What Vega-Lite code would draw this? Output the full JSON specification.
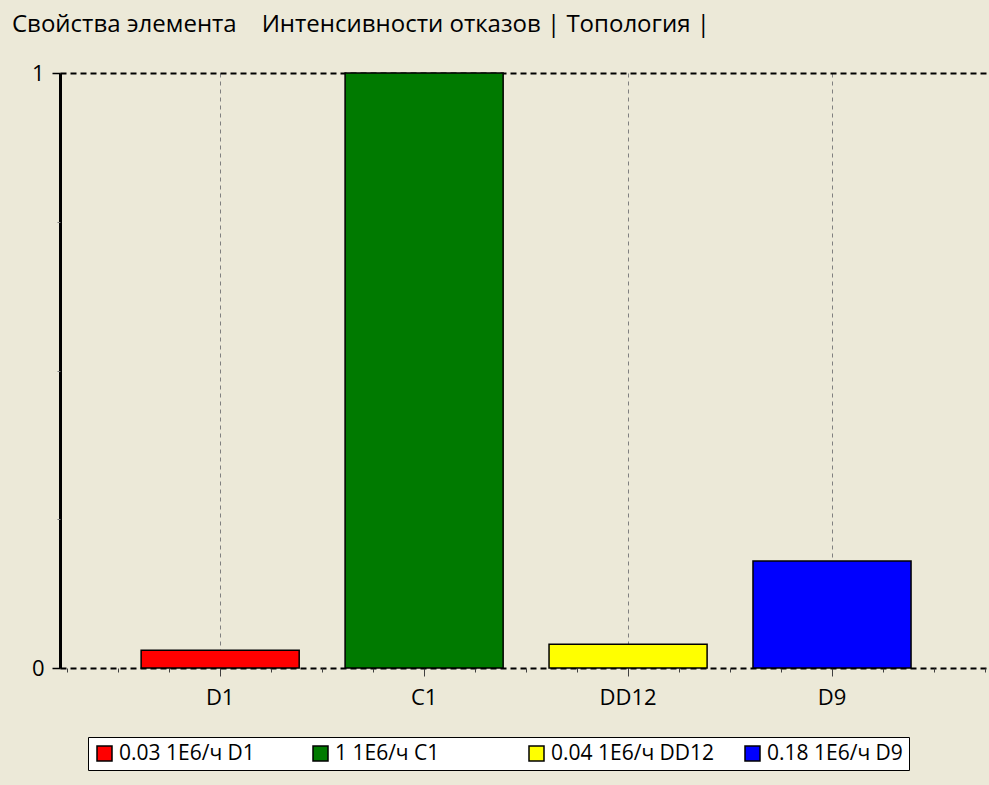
{
  "$schema": "https://vega.github.io/schema/vega-lite/v6.json",
  "width": 929,
  "height": 595,
  "autosize": {"type": "none"},
  "padding": {"left": 60, "top": 73, "right": 0, "bottom": 117},
  "background": "#ECE9D8",
  "title": {
    "text": "Свойства элемента\u00a0\u00a0\u00a0\u00a0Интенсивности отказов\u00a0|\u00a0Топология\u00a0|",
    "anchor": "start",
    "frame": "group",
    "dx": -48,
    "offset": 25,
    "fontSize": 24,
    "font": "Open Sans",
    "fontWeight": "normal",
    "color": "black"
  },
  "config": {
    "view": {"stroke": null},
    "font": "Open Sans"
  },
  "data": {
    "values": [
      {"element": "D1", "rate": 0.03, "label": "0.03 1E6/ч D1"},
      {"element": "C1", "rate": 1, "label": "1 1E6/ч C1"},
      {"element": "DD12", "rate": 0.04, "label": "0.04 1E6/ч DD12"},
      {"element": "D9", "rate": 0.18, "label": "0.18 1E6/ч D9"}
    ]
  },
  "layer": [
    {
      "mark": {"type": "bar", "stroke": "black", "strokeWidth": 1.5},
      "encoding": {
        "x": {
          "field": "element",
          "type": "nominal",
          "sort": null,
          "scale": {"paddingInner": 0.225, "paddingOuter": 0.39, "align": 0.51},
          "axis": {
            "title": null,
            "labelAngle": 0,
            "labelFontSize": 22,
            "labelColor": "black",
            "labelPadding": 11,
            "tickSize": 8,
            "tickColor": "#404040",
            "domain": false,
            "grid": true,
            "gridDash": [4, 4],
            "gridColor": "#808080",
            "gridWidth": 1
          }
        },
        "y": {
          "field": "rate",
          "type": "quantitative",
          "scale": {"domain": [0, 1], "nice": false},
          "axis": {
            "title": null,
            "values": [0, 1],
            "format": "d",
            "labelFontSize": 22,
            "labelColor": "black",
            "tickSize": 8,
            "tickColor": "black",
            "tickWidth": 1.5,
            "domainColor": "black",
            "domainWidth": 3,
            "labelPadding": 8,
            "grid": true,
            "gridColor": "black",
            "gridDash": [6, 4],
            "gridWidth": 2
          }
        },
        "color": {
          "field": "label",
          "type": "nominal",
          "sort": null,
          "scale": {"range": ["#FF0000", "#007A00", "#FFFF00", "#0000FF"]},
          "legend": {
            "title": null,
            "orient": "none",
            "legendX": 28,
            "legendY": 664,
            "direction": "horizontal",
            "columns": 4,
            "gridAlign": "all",
            "fillColor": "white",
            "strokeColor": "black",
            "padding": 6,
            "symbolType": "square",
            "symbolSize": 225,
            "symbolStrokeColor": "black",
            "symbolStrokeWidth": 1.5,
            "symbolOpacity": 1,
            "labelFontSize": 21,
            "labelColor": "black",
            "labelLimit": 300,
            "labelOffset": 4,
            "columnPadding": 27
          }
        }
      }
    },
    {
      "mark": {"type": "point", "opacity": 0},
      "encoding": {
        "x": {
          "datum": 1,
          "type": "quantitative",
          "scale": {"domain": [0.2157, 4.7696], "nice": false, "zero": false},
          "axis": {
            "orient": "bottom",
            "title": null,
            "values": [0.25, 0.5, 0.75, 1.25, 1.5, 1.75, 2.25, 2.5, 2.75, 3.25, 3.5, 3.75, 4.25, 4.5, 4.75],
            "labels": false,
            "domain": false,
            "grid": false,
            "tickSize": 4,
            "tickColor": "#404040"
          }
        },
        "y": {
          "datum": 0,
          "type": "quantitative",
          "scale": {"domain": [0, 1], "nice": false},
          "axis": {
            "orient": "left",
            "title": null,
            "values": [0.25, 0.5, 0.75],
            "labels": false,
            "domain": false,
            "grid": false,
            "tickSize": 3,
            "tickColor": "#808080"
          }
        }
      }
    }
  ],
  "resolve": {
    "scale": {"x": "independent", "y": "independent"},
    "axis": {"x": "independent", "y": "independent"}
  }
}
